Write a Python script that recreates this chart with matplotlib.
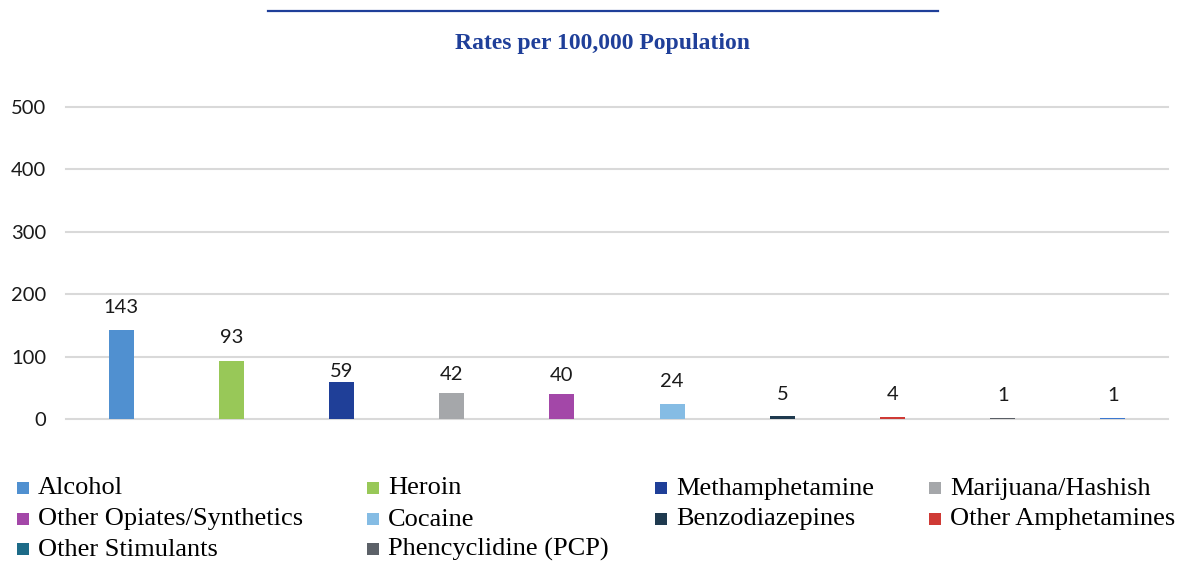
import matplotlib
matplotlib.use("Agg")
import matplotlib.pyplot as plt
from matplotlib.patches import Rectangle
from matplotlib.lines import Line2D

# Substance categories and rates per 100,000 population
categories = [
    "Alcohol", "Heroin", "Methamphetamine", "Marijuana/Hashish",
    "Other Opiates/Synthetics", "Cocaine", "Benzodiazepines",
    "Other Amphetamines", "Other Stimulants", "Phencyclidine (PCP)",
]
rates = [143, 93, 59, 42, 40, 24, 5, 4, 1, 1]
y_ticks = [0, 100, 200, 300, 400, 500]
title = "Rates per 100,000 Population"

# Colours
legend_colors = [
    "#5090D0", "#98C858", "#1F3F98", "#A5A7AA", "#A347A8",
    "#85BCE4", "#1F3A4F", "#CF3A35", "#1D6B88", "#5C6168",
]
bar_colors = legend_colors[:8] + ["#5A5F66", "#3C78D0"]
title_color = "#1F3F99"
grid_color = "#D9D9D9"
text_color = "#1A1A1A"

W, H = 1185, 561
fig = plt.figure(figsize=(W / 100, H / 100), dpi=100)
fig.patch.set_facecolor("white")

# Plot area (pixel-based placement)
left, right, top, bottom = 66, 1168, 107, 419
ax = fig.add_axes([left / W, 1 - bottom / H, (right - left) / W, (bottom - top) / H])
xs = list(range(len(categories)))
ax.bar(xs, rates, width=0.227, color=bar_colors, zorder=3)
ax.set_xlim(-0.5, len(categories) - 0.5)
ax.set_ylim(y_ticks[0], y_ticks[-1])
ax.set_xticks([])
ax.set_yticks(y_ticks)
ax.set_yticklabels([str(t) for t in y_ticks], fontfamily="Lato", fontsize=14.5, color=text_color)
ax.tick_params(axis="y", length=0, pad=14.4)
ax.yaxis.grid(True, color=grid_color, linewidth=1.5)
ax.set_axisbelow(True)
for gl in ax.get_ygridlines():
    gl.set_clip_on(False)
for s in ax.spines.values():
    s.set_visible(False)

# Value labels above each bar (offsets in points)
label_offsets = [12.2, 13.0, 3.6, 9.4, 9.4, 12.2, 11.5, 12.2, 12.2, 12.2]
for x, v, off in zip(xs, rates, label_offsets):
    ax.annotate(str(v), (x, v), xytext=(0, off), textcoords="offset points",
                ha="center", va="baseline", fontfamily="Lato", fontsize=14.5,
                color=text_color, annotation_clip=False)

# Title with rule above it
fig.add_artist(Line2D([268 / W, 938 / W], [1 - 11 / H, 1 - 11 / H],
                      transform=fig.transFigure, color=title_color, linewidth=1.6))
fig.text(602.5 / W, 1 - 48.5 / H, title, ha="center", va="baseline",
         fontfamily="Liberation Serif", fontweight="bold", fontsize=17,
         color=title_color)

# Legend: four columns, three rows
col_x = [17, 367, 655, 929]
row_center = [488, 519, 549]
box = 12
for i, (name, c) in enumerate(zip(categories, legend_colors)):
    r, col = divmod(i, 4)
    x0 = col_x[col]
    yc = row_center[r]
    fig.add_artist(Rectangle((x0 / W, 1 - (yc + box / 2) / H), box / W, box / H,
                             transform=fig.transFigure, facecolor=c, edgecolor="none"))
    fig.text((x0 + 21) / W, 1 - (yc + 6.5) / H, name, ha="left", va="baseline",
             fontfamily="Liberation Serif", fontsize=19, color="black")

fig.savefig("out.png", dpi=100)
